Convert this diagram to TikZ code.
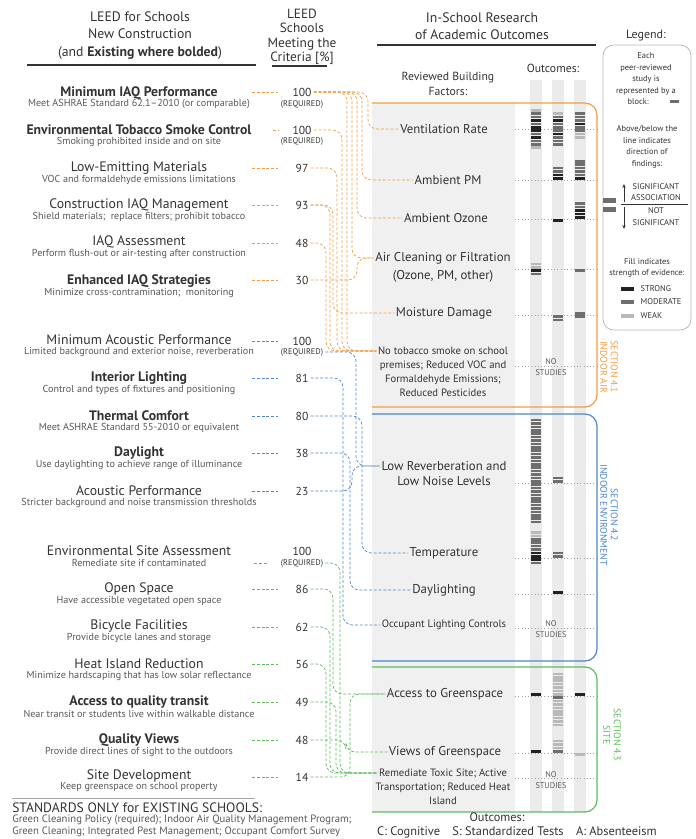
\documentclass[tikz,border=0pt]{standalone}
\usepackage{fontspec}
\setmainfont{PT Sans}
\usetikzlibrary{calc,arrows.meta}

\definecolor{txt}{HTML}{333333}
\definecolor{subc}{HTML}{585858}
\definecolor{orc}{HTML}{EE9E45}
\definecolor{blc}{HTML}{4F86C6}
\definecolor{grc}{HTML}{5DBB5D}
\definecolor{panel}{HTML}{F0F0F0}
\definecolor{stripe}{HTML}{EBEBEB}
\definecolor{blkS}{HTML}{222222}
\definecolor{blkM}{HTML}{6E6E6E}
\definecolor{blkW}{HTML}{B9B9B9}

\tikzset{
  hdr/.style={font=\fontsize{10.3}{13}\selectfont, align=center, text=txt},
  crit/.style={font=\fontsize{10.3}{12}\selectfont, text=txt},
  critb/.style={font=\fontsize{10.3}{12}\selectfont\bfseries, text=txt},
  sub/.style={font=\fontsize{7.6}{8.5}\selectfont, text=subc},
  pct/.style={font=\fontsize{8.7}{10}\selectfont, text=txt, inner sep=1.5pt},
  req/.style={font=\fontsize{6.2}{7}\selectfont, text=txt, inner sep=1.5pt},
  fac/.style={font=\fontsize{9.6}{11}\selectfont, text=txt, inner sep=1pt},
  facsm/.style={font=\fontsize{8}{10.5}\selectfont, text=txt, inner sep=1pt, align=center},
  nost/.style={font=\fontsize{6.2}{8}\selectfont, text=subc, align=center},
  legtxt/.style={font=\fontsize{6.3}{8.6}\selectfont, text=txt, align=center},
  lnk/.style={dash pattern=on 2.2pt off 1.4pt, line width=0.5pt, rounded corners=7pt},
  olink/.style={lnk, draw=orc},
  blink/.style={lnk, draw=blc},
  glink/.style={lnk, draw=grc},
  rowline/.style={draw=gray!75, dotted, line width=0.45pt},
  secbox/.style={line width=0.9pt, rounded corners=9pt},
}

% from a criterion: across to a lane, down (or up) the lane, into the factor
\newcommand\lanelink[4]{\draw[#1] let \p1=(#4) in (#2) -| (#3,\y1) -- (#4);}
% study blocks above / below a factor line
\newcommand\upblk[3]{\foreach \c [count=\i] in {#3} \fill[blk\c] (#1-5,#2-\i*3.4+0.4) rectangle ++(10,2.6);}
\newcommand\dnblk[3]{\foreach \c [count=\i] in {#3} \fill[blk\c] (#1-5,#2+\i*3.4-3.0) rectangle ++(10,2.6);}

\begin{document}
\begin{tikzpicture}[x=0.75pt,y=-0.75pt]
\useasboundingbox (0,0) rectangle (696,839);

% headings
\node[hdr] (hleed) at (140,35.5) {LEED for Schools\\New Construction\\(and \textbf{Existing where bolded})};
\draw[txt, line width=0.8pt] (27,65) -- (256,65);
\node[hdr, font=\fontsize{10}{10.9}\selectfont] (hpct) at (302,37) {LEED\\Schools\\Meeting the\\Criteria [\%]};
\draw[txt, line width=0.8pt] (272,66) -- (327,66);
\node[hdr] (hres) at (482,26) {In-School Research\\of Academic Outcomes};
\draw[txt, line width=0.8pt] (377,45) -- (596,45);
\node[hdr, font=\fontsize{9}{10}\selectfont] (hleg) at (646,36) {Legend:};
\node[hdr, font=\fontsize{8.8}{11}\selectfont] (hfac) at (448,84) {Reviewed Building\\Factors:};
\node[hdr, font=\fontsize{8.8}{10}\selectfont] (hout) at (553,68) {Outcomes:};
\foreach \x/\l in {536/C,558/S,580/A}
  \node[hdr, font=\fontsize{9}{10}\selectfont] (col\l) at (\x,88) {\l};

% grey panel and outcome columns
\fill[panel] (372,103) rectangle (515,812);
\foreach \x in {536,558,580} \fill[stripe] (\x-6,80) rectangle (\x+6,812);

% section boxes
\draw[orc, secbox] (372,103) -- (597,103) -- (597,407) -- (372,407);
\draw[blc, secbox] (372,414) -- (597,414) -- (597,661) -- (372,661);
\draw[grc, secbox] (372,667) -- (597,667) -- (597,812) -- (372,812);
\node[rotate=-90, align=center, text=orc, font=\fontsize{7.3}{8}\selectfont] (sec1) at (609,367) {SECTION 4.1\\INDOOR AIR};
\node[rotate=-90, align=center, text=blc, font=\fontsize{7.3}{8}\selectfont] (sec2) at (609,515) {SECTION 4.2\\INDOOR ENVIRONMENT};
\node[rotate=-90, align=center, text=grc, font=\fontsize{7.3}{8}\selectfont] (sec3) at (612,735) {SECTION 4.3\\SITE};

% factor lines
\foreach \y in {129,180,219,269,315,366,483,558,594,628,696,753,778}
  \draw[rowline] (515,\y) -- (597,\y);

% blocks: indoor air
\upblk{536}{129}{S,M,S,M,M,W}
\dnblk{536}{129}{S,M,S,M,M,W}
\upblk{558}{129}{M,M,S,M,W}
\dnblk{558}{129}{M,S,M,M,M}
\upblk{580}{129}{M,S,M,M,M}
\dnblk{580}{129}{M,W,W}
\upblk{558}{180}{S,S,M,M}
\upblk{580}{180}{S,M,M,M,M,M}
\dnblk{558}{219}{S}
\upblk{580}{219}{S,S,S,M,M}
\upblk{536}{269}{W,W}
\dnblk{536}{269}{S,M}
\dnblk{580}{269}{M}
\dnblk{558}{315}{M,M}
\upblk{580}{315}{M}
\dnblk{580}{315}{M}
% blocks: indoor environment
\upblk{536}{483}{M,M,M,M,M,M,M,M,M,M,M,M,M,M,M,M,M,M,M}
\dnblk{536}{483}{M,M,M,M,M,M,M,M,M,M,M,M}
\upblk{558}{483}{M,M}
\upblk{536}{558}{S,S,M,M,M,M,W,W}
\dnblk{536}{558}{S,M}
\upblk{558}{558}{M,M}
\upblk{558}{594}{S}
% blocks: site
\upblk{536}{696}{S}
\upblk{580}{696}{S}
\upblk{558}{696}{W,W,W,W,W,W,W}
\dnblk{558}{696}{M,W,W,W,W,W,W,W,W}
\upblk{536}{753}{S}
\upblk{558}{753}{M,W,W,W}
\dnblk{580}{753}{W}

% no studies
\node[nost] (ns1) at (551,367) {NO\\STUDIES};
\node[nost] (ns2) at (551,629) {NO\\STUDIES};
\node[nost] (ns3) at (551,780) {NO\\STUDIES};

% building factors
\node[fac] (fvent) at (444,129) {Ventilation Rate};
\node[fac] (fpm) at (448,180) {Ambient PM};
\node[fac] (foz) at (446,218) {Ambient Ozone};
\node[fac] (fair) at (443,258) {Air Cleaning or Filtration};
\node[fac] (fair2) at (443,276) {(Ozone, PM, other)};
\node[fac] (fmoist) at (444,313) {Moisture Damage};
\node[facsm] (ftob) at (443,351) {No tobacco smoke on school};
\node[facsm] (ftob2) at (443,379) {premises; Reduced VOC and\\Formaldehyde Emissions;\\Reduced Pesticides};
\node[fac] (frev) at (444,466) {Low Reverberation and};
\node[fac] (frev2) at (444,481) {Low Noise Levels};
\node[fac] (ftemp) at (444,553) {Temperature};
\node[fac] (fday) at (444,590) {Daylighting};
\node[facsm] (focc) at (444,625) {Occupant Lighting Controls};
\node[fac] (facc) at (445,694) {Access to Greenspace};
\node[fac] (fview) at (445,752) {Views of Greenspace};
\node[facsm] (frem) at (443,773) {Remediate Toxic Site; Active};
\node[facsm] (frem2) at (443,794) {Transportation; Reduced Heat\\Island};

% LEED criteria
\foreach \y/\s/\t/\d [count=\i] in {
  93/critb/{Minimum IAQ Performance}/{Meet ASHRAE Standard 62.1--2010 (or comparable)},
  130/critb/{Environmental Tobacco Smoke Control}/{Smoking prohibited inside and on site},
  168/crit/{Low-Emitting Materials}/{VOC and formaldehyde emissions limitations},
  205/crit/{Construction IAQ Management}/{Shield materials;~ replace filters; prohibit tobacco},
  242/crit/{IAQ Assessment}/{Perform flush-out or air-testing after construction},
  281/critb/{Enhanced IAQ Strategies}/{Minimize cross-contramination;~ monitoring},
  340/crit/{Minimum Acoustic Performance}/{Limited background and exterior noise, reverberation},
  378/critb/{Interior Lighting}/{Control and types of fixtures and positioning},
  416/critb/{Thermal Comfort}/{Meet ASHRAE Standard 55-2010 or equivalent},
  453/critb/{Daylight}/{Use daylighting to achieve range of illuminance},
  491/crit/{Acoustic Performance}/{Stricter background and noise transmission thresholds},
  551/crit/{Environmental Site Assessment}/{Remediate site if contaminated},
  589/crit/{Open Space}/{Have accessible vegetated open space},
  626/crit/{Bicycle Facilities}/{Provide bicycle lanes and storage},
  664/crit/{Heat Island Reduction}/{Minimize hardscaping that has low solar reflectance},
  702/critb/{Access to quality transit}/{Near transit or students live within walkable distance},
  740/critb/{Quality Views}/{Provide direct lines of sight to the outdoors},
  776/crit/{Site Development}/{Keep greenspace on school property}}
{
  \node[\s] (t\i) at (139,\y) {\t};
  \node[sub] (d\i) at (139,\y+11.5) {\d};
}

% percentages
\foreach \y/\n [count=\i] in {92/100,130/100,168/97,205/93,243/48,280/30,
  341/100,378/81,416/80,453/38,491/23,
  551/100,589/86,627/62,664/56,702/49,740/48,777/14}
  \node[pct] (n\i) at (302,\y) {\n};
\foreach \i/\y in {1/104,2/141,7/352,12/563}
  \node[req] (r\i) at (302,\y) {(REQUIRED)};

% dashes before the percentages
\foreach \y in {92,168,205,243,280} \draw[olink] (252,\y) -- (278,\y);
\draw[olink] (273,130) -- (278,130);
\foreach \y in {341,378,416,453,491} \draw[blink] (252,\y) -- (278,\y);
\foreach \y in {589,627,664,702,740,777} \draw[glink] (252,\y) -- (278,\y);
\draw[glink] (254,563) -- (268,563);

% orange links
\lanelink{olink}{n1.east}{368}{fvent.west}
\lanelink{olink}{n1.east}{362}{fpm.west}
\lanelink{olink}{n1.east}{357}{foz.west}
\lanelink{olink}{n1.east}{352}{fair.west}
\lanelink{olink}{n1.east}{347}{ftob.west}
\lanelink{olink}{n2.east}{342}{ftob.west}
\lanelink{olink}{n3.east}{337}{ftob.west}
\lanelink{olink}{n4.east}{333}{fmoist.west}
\lanelink{olink}{n4.east}{330}{ftob.west}
\lanelink{olink}{n5.east}{326}{ftob.west}
\lanelink{olink}{n6.east}{357}{fair.west}

% blue links
\lanelink{blink}{r7.east}{356}{frev.west}
\lanelink{blink}{n8.east}{343}{focc.west}
\lanelink{blink}{n9.east}{362}{ftemp.west}
\lanelink{blink}{n10.east}{350}{fday.west}
\lanelink{blink}{n11.east}{352}{frev.west}

% green links
\lanelink{glink}{r12.east}{340}{frem.west}
\lanelink{glink}{n13.east}{333}{facc.west}
\lanelink{glink}{n14.east}{330}{frem.west}
\lanelink{glink}{n15.east}{326}{frem.west}
\lanelink{glink}{n16.east}{336}{frem.west}
\lanelink{glink}{n17.east}{346}{fview.west}
\lanelink{glink}{n18.east}{350}{facc.west}

% legend
\draw[gray!55, line width=0.6pt, rounded corners=8pt] (603,45) rectangle (691,330);
\node[legtxt] (lg1) at (646,79) {Each\\peer-reviewed\\study is\\represented by a\\block: \phantom{xxx}};
\fill[blkM] (670,99.5) rectangle (679,102.5);
\node[legtxt] (lg2) at (647,147) {Above/below the\\line indicates\\direction of\\findings:};
\fill[blkM] (603,198) rectangle (616,203);
\fill[blkM] (603,207) rectangle (616,212);
\draw[txt, line width=0.5pt] (621,204) -- (688,204);
\draw[txt, line width=0.5pt, -{Stealth[length=3pt,width=2.5pt]}] (624,202) -- (624,184);
\draw[txt, line width=0.5pt, -{Stealth[length=3pt,width=2.5pt]}] (624,207) -- (624,229);
\node[legtxt] (lg3) at (656,192) {SIGNIFICANT\\ASSOCIATION};
\node[legtxt] (lg4) at (656,216.5) {NOT\\SIGNIFICANT};
\node[legtxt] (lg5) at (647,268) {Fill indicates\\strength of evidence:};
\foreach \y/\c/\l in {289/S/STRONG,302/M/MODERATE,316/W/WEAK}
{
  \fill[blk\c] (621,\y-1.8) rectangle (634,\y+1.8);
  \node[legtxt, anchor=west] (lk\l) at (636,\y) {\l};
}

% bottom notes
\draw[gray!70, line width=0.6pt] (12,798) -- (255,798);
\node[anchor=west, inner sep=0pt, text=txt, font=\fontsize{10.2}{11}\selectfont] (exst) at (12,808) {STANDARDS ONLY for EXISTING SCHOOLS:};
\node[anchor=west, inner sep=0pt, text=subc, font=\fontsize{8}{9}\selectfont] (exl1) at (12,820) {Green Cleaning Policy (required); Indoor Air Quality Management Program;};
\node[anchor=west, inner sep=0pt, text=subc, font=\fontsize{8}{9}\selectfont] (exl2) at (12,831.5) {Green Cleaning; Integrated Pest Management; Occupant Comfort Survey};
\node[text=txt, font=\fontsize{9.2}{10}\selectfont, inner sep=0pt] (okey) at (497,817.5) {Outcomes:};
\node[text=txt, font=\fontsize{9.3}{10}\selectfont, inner sep=0pt] (okey2) at (517,832) {C: Cognitive\quad S: Standardized Tests\quad A: Absenteeism};
\end{tikzpicture}
\end{document}
